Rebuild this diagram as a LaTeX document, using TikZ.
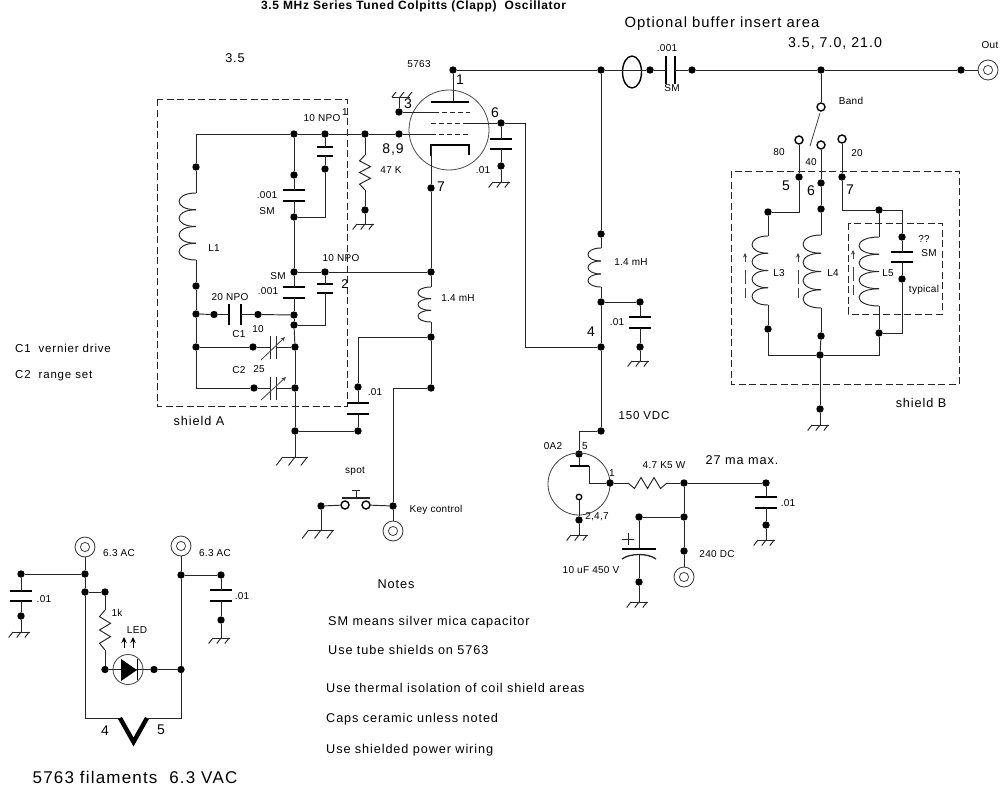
\documentclass[tikz,border=0pt]{standalone}
\usepackage{fontspec}
\setmainfont{Liberation Sans}
\newfontfamily\lsf[LetterSpace=7]{Liberation Sans}
\newfontfamily\ssf[LetterSpace=3]{Liberation Sans}
\newfontfamily\ttlf[LetterSpace=5.5]{Liberation Sans}
\usetikzlibrary{arrows.meta,shapes.geometric}
\newcounter{lab}
\tikzset{
  wire/.style={line width=0.95pt,draw=black!85,line join=miter},
  plate/.style={line width=1.7pt,draw=black},
  thinw/.style={line width=0.8pt,draw=black!75},
  dot/.style={circle,fill=black,inner sep=0pt,minimum size=7.4pt},
  opn/.style={circle,draw=black,fill=white,line width=1.4pt,inner sep=0pt,minimum size=8pt},
  jk/.style={circle,draw=black!80,line width=0.8pt,fill=white,inner sep=0pt,minimum size=20pt},
  shield/.style={line width=0.95pt,draw=black!85,dash pattern=on 7pt off 3.5pt},
  sm/.style={inner sep=0pt,font=\ssf\fontsize{10}{12}\selectfont},
  ms/.style={inner sep=0pt,font=\lsf\fontsize{11.5}{14}\selectfont},
  md/.style={inner sep=0pt,font=\lsf\fontsize{12.7}{15}\selectfont},
  mb/.style={inner sep=0pt,font=\lsf\fontsize{14.2}{16}\selectfont},
  mc/.style={inner sep=0pt,font=\lsf\fontsize{14.8}{17}\selectfont},
  bg/.style={inner sep=0pt,font=\lsf\fontsize{14}{16}\selectfont},
  lg/.style={inner sep=0pt,font=\lsf\fontsize{17}{19}\selectfont},
  ttl/.style={inner sep=0pt,font=\ttlf\bfseries\fontsize{12}{14}\selectfont},
}
\newcommand\J[3]{\node[dot] (#1) at (#2,#3) {};}
\newcommand\OC[3]{\node[opn] (#1) at (#2,#3) {};}
\newcommand\JK[3]{\node[jk] (#1) at (#2,#3) {}; \draw[thinw] (#2,#3) circle (4.6pt);}
\newcommand\PT[3]{\coordinate (#1) at (#2,#3);}
\newcommand\lb[4][sm]{\stepcounter{lab}\node[#1] (t\thelab) at (#2,#3) {#4};}
\newcommand\lbw[4][md]{\stepcounter{lab}\node[#1,anchor=west] (t\thelab) at (#2,#3) {#4};}
% vertical capacitor: name x y1 y2 halfwidth
\newcommand\capV[5]{\coordinate (#1t) at (#2,#3);\coordinate (#1b) at (#2,#4);
  \draw[plate] (#2-#5,#3)--(#2+#5,#3) (#2-#5,#4)--(#2+#5,#4);}
% horizontal capacitor: name y x1 x2 halfheight
\newcommand\capH[5]{\coordinate (#1l) at (#3,#2);\coordinate (#1r) at (#4,#2);
  \draw[plate] (#3,#2-#5)--(#3,#2+#5) (#4,#2-#5)--(#4,#2+#5);}
% variable capacitor plates
\newcommand\capHv[5]{\coordinate (#1l) at (#3,#2);\coordinate (#1r) at (#4,#2);
  \draw[wire] (#3,#2-#5)--(#3,#2+#5) (#4,#2-#5)--(#4,#2+#5);}
% vertical resistor: name x y1 y2
\newcommand\resV[4]{\coordinate (#1t) at (#2,#3);\coordinate (#1b) at (#2,#4);
  \pgfmathsetmacro\hh{(#4-#3)/6}
  \draw[wire] (#2,#3)--(#2-5.5,#3+\hh)--(#2+5.5,#3+2*\hh)--(#2-5.5,#3+3*\hh)--(#2+5.5,#3+4*\hh)--(#2-5.5,#3+5*\hh)--(#2,#4);}
% horizontal resistor: name y x1 x2
\newcommand\resH[4]{\coordinate (#1l) at (#3,#2);\coordinate (#1r) at (#4,#2);
  \pgfmathsetmacro\hh{(#4-#3)/6}
  \draw[wire] (#3,#2)--(#3+\hh,#2+5.5)--(#3+2*\hh,#2-5.5)--(#3+3*\hh,#2+5.5)--(#3+4*\hh,#2-5.5)--(#3+5*\hh,#2+5.5)--(#4,#2);}
% vertical coil: name x y1 y2 w lobes
\newcommand\coilV[6]{\coordinate (#1t) at (#2,#3);\coordinate (#1b) at (#2,#4);
  \pgfmathsetmacro\hh{(#4-#3)/#6}
  \foreach \i in {1,...,#6}{\pgfmathsetmacro\ya{#3+(\i-1)*\hh}\pgfmathsetmacro\yb{\ya+\hh}
    \draw[wire] (#2,\ya) .. controls (#2-#5*1.33,\ya) and (#2-#5*1.33,\yb) .. (#2,\yb);}}
% ground: name x y halfwidth
\newcommand\GN[4]{\coordinate (#1) at (#2,#3);
  \draw[wire] (#2-#4,#3)--(#2+#4,#3);
  \foreach \k in {-1,0,1}{\pgfmathsetmacro\xx{#2+\k*#4*0.95}\draw[wire] (\xx,#3)--(\xx-#4*0.5,#3+#4*0.65);}}
% tuning arrow beside coil: x ytop
\newcommand\TA[2]{\draw[thinw,-{Stealth[length=4.5pt,width=4pt]}] (#1,#2+9)--(#1,#2);
  \draw[thinw] (#1,#2+17)--(#1,#2+31);\draw[thinw] (#1,#2+35)--(#1,#2+45);}
\begin{document}
\begin{tikzpicture}[x=1pt,y=-1pt]
\useasboundingbox[fill=white] (0,0) rectangle (1000,789);
% ---- shields
\draw[shield] (157,99.5) rectangle (347,406);
\draw[shield] (731,171) rectangle (959,384);
\draw[shield] (848,223) rectangle (942,314);
% ---- tank
\J{a1}{196}{167}\J{a2}{294}{134}\J{a3}{325}{134}\J{a4}{365}{134}\J{g89}{399}{134}
\PT{tl}{196}{134}
\coilV{L1}{196}{193}{260}{17}{4}
\J{a5}{196}{286}\J{a6}{196}{314}\J{a7}{196}{347}\PT{a8}{196}{388}
\draw[wire] (a2)--(tl)--(a1); \draw[wire] (a2)--(a3)--(a4)--(g89);
\draw[wire] (a1)--(L1t);\draw[wire] (L1b)--(a5);\draw[wire] (a5)--(a6);\draw[wire] (a6)--(a7);\draw[wire] (a7)--(a8);
\J{b1}{294}{175}\capV{c1}{294}{190}{201}{11}\J{b2}{294}{217}
\draw[wire] (a2)--(b1);\draw[wire] (b1)--(c1t);\draw[wire] (c1b)--(b2);
\capV{c2}{325}{147}{156}{8}\J{b3}{325}{169}\PT{b4}{325}{217}
\draw[wire] (a3)--(c2t);\draw[wire] (c2b)--(b3);\draw[wire] (b3)--(b4)--(b2);
\J{d1}{294}{272}\J{d2}{325}{272}\J{d3}{431}{272}
\draw[wire] (b2)--(d1);\draw[wire] (d1)--(d2);\draw[wire] (d2)--(d3);
\capV{c3}{294}{287}{298}{11}\capV{c4}{325}{284}{293}{8}
\J{e1}{294}{315}\J{e2}{294}{325}\PT{e3}{325}{325}
\draw[wire] (d1)--(c3t);\draw[wire] (c3b)--(e1);\draw[wire] (e1)--(e2);
\draw[wire] (d2)--(c4t);\draw[wire] (c4b)--(e3)--(e2);
\J{f1}{214}{314.5}\capH{cf}{314.5}{229}{241}{10.5}\J{f2}{258}{314.5}
\draw[wire] (a6)--(f1);\draw[wire] (f1)--(cfl);\draw[wire] (cfr)--(f2);\draw[wire] (f2)--(e1);
% variable caps
\J{v1}{253}{347}\J{v2}{295}{347}\capHv{cv1}{347}{270}{276}{11.5}
\draw[wire] (a7)--(v1);\draw[wire] (v1)--(cv1l);\draw[wire] (cv1r)--(v2);
\draw[thinw,-{Stealth[length=4.5pt,width=4pt]}] (261,360)--(285,337);
\J{v3}{254}{388}\J{v4}{295}{388}\capHv{cv2}{388}{270}{276}{11.5}
\draw[wire] (a8)--(v3);\draw[wire] (v3)--(cv2l);\draw[wire] (cv2r)--(v4);
\draw[thinw,-{Stealth[length=4.5pt,width=4pt]}] (261,400)--(286,377);
\J{h1}{295}{431}
\draw[wire] (e2)--(v2);\draw[wire] (v2)--(v4);\draw[wire] (v4)--(h1);
\GN{hg}{295}{457}{13}\draw[wire] (h1)--(hg);
% .01 near shield A
\J{i1}{358}{387}\capV{c5}{358}{403}{414}{11}\J{i2}{358}{431}\PT{i3}{358}{337}
\draw[wire] (i1)--(c5t);\draw[wire] (c5b)--(i2);\draw[wire] (h1)--(i2);
\J{j1}{431}{337}\J{j2}{431}{388}
\draw[wire] (i1)--(i3)--(j1);\draw[wire] (j1)--(j2);
\coilV{L6}{431}{287}{322}{13}{3}
\draw[wire] (d3)--(L6t);\draw[wire] (L6b)--(j1);
% key
\PT{k0}{393}{388}\J{k1}{393}{506}\JK{kj}{393}{531}
\draw[wire] (j2)--(k0)--(k1);\draw[wire] (k1)--(kj);
\J{k2}{321}{506}\OC{s1}{345}{505}\OC{s2}{366}{505}
\draw[wire] (k2)--(s1);\draw[wire] (s2)--(k1);
\GN{kg}{321}{530}{13}\draw[wire] (k2)--(kg);
\PT{sb1}{342}{498}\PT{sb2}{370}{498}\PT{ss1}{356}{498}\PT{ss2}{356}{490}\PT{sc1}{352}{490}\PT{sc2}{360}{490}
\draw[wire,line width=1.3pt] (sb1)--(sb2);\draw[wire] (ss1)--(ss2);\draw[wire] (sc1)--(sc2);
% 47K
\resV{R1}{365}{155}{190}\J{r2}{365}{210}\GN{rg}{365}{224}{8.5}
\draw[wire] (a4)--(R1t);\draw[wire] (R1b)--(r2);\draw[wire] (r2)--(rg);
% ---- tube 5763
\node[circle,draw=black!70,line width=0.8pt,inner sep=0pt,minimum size=80pt] (tube) at (449,130) {};
\J{p1}{453}{70}\PT{p2}{453}{102}\PT{p3}{431}{102}\PT{p4}{469}{102}
\draw[wire] (p1)--(p2);\draw[line width=1.7pt] (p3)--(p4);
\J{g3}{399}{112}\PT{g3a}{434}{112}\PT{g3b}{470}{112}
\draw[wire] (g3)--(g3a);\draw[wire,dash pattern=on 5pt off 3pt] (g3a)--(g3b);
\PT{g3t}{399}{97}\draw[wire] (g3)--(g3t);\draw[wire] (392,97)--(410,97);
\foreach \x in {392,400,408}{\draw[wire] (\x,97)--(\x+4,92);}
\J{g6}{501}{123}\PT{g6a}{431}{123}\PT{g6b}{466}{123}\PT{g6c}{525}{123}
\draw[wire,dash pattern=on 5pt off 3pt] (g6a)--(g6b);\draw[wire] (g6b)--(g6);\draw[wire] (g6)--(g6c);
\PT{g8a}{431}{134}\PT{g8b}{470}{134}
\draw[wire] (g89)--(g8a);\draw[wire,dash pattern=on 5pt off 3pt] (g8a)--(g8b);
\capV{c6}{501}{139}{149}{11}\J{m1}{501}{166}\GN{mg}{501}{182}{8.5}
\draw[wire] (g6)--(c6t);\draw[wire] (c6b)--(m1);\draw[wire] (m1)--(mg);
% cathode
\PT{k3}{431}{145}\PT{k4}{469}{145}\PT{k5}{469}{155}\J{k7}{431}{188}
\draw[line width=1.7pt] (k5)--(k4)--(k3)--(431,156);
\draw[wire] (k3)--(k7);\draw[wire] (k7)--(d3);
% top wire and buffer
\J{n1}{601}{70}\node[draw=black,line width=1.4pt,ellipse,inner sep=0pt,minimum width=19pt,minimum height=32pt] (n2) at (632,72) {};
\J{n3}{650}{70}\capH{c7}{70}{666}{675}{14}\J{n4}{692}{70}\J{n5}{821}{70}\J{n6}{961}{70}\JK{oj}{988}{70}
\draw[wire] (p1)--(n1);\draw[wire] (n1)--(n3);\draw[wire] (n3)--(c7l);\draw[wire] (c7r)--(n4);\draw[wire] (n4)--(n5);\draw[wire] (n5)--(n6);\draw[wire] (n6)--(oj);
% screen / B+ line
\coilV{L7}{601}{248}{287}{13}{3}
\J{q0}{601}{234}\J{q1}{601}{302}\J{q2}{640}{302}\J{q3}{601}{347}\J{q4}{640}{347}\capV{c8}{640}{317}{328}{11}\GN{qg}{640}{361}{8.5}
\draw[wire] (n1)--(q0);\draw[wire] (q0)--(L7t);\draw[wire] (L7b)--(q1);\draw[wire] (q1)--(q2);\draw[wire] (q2)--(c8t);\draw[wire] (c8b)--(q4);\draw[wire] (q4)--(qg);
\draw[wire] (q1)--(q3);\draw[wire] (g6c)--(525,347)--(q3);
% OA2
\J{u1}{601}{431}\PT{u2}{579}{431}\J{u3}{579}{454}
\draw[wire] (q3)--(u1);\draw[wire] (u1)--(u2)--(u3);
\node[circle,draw=black!75,line width=0.8pt,inner sep=0pt,minimum size=62pt] (oa) at (579,484) {};
\J{u4}{610}{483}\PT{u5}{579}{466}\PT{u6}{570}{466}\PT{u7}{589}{466}\PT{u8}{589}{483}
\draw[wire] (u3)--(u5);\draw[line width=1.5pt] (u6)--(u7);\draw[wire] (u7)--(u8)--(u4);
\node[circle,draw=black,fill=white,line width=1.3pt,inner sep=0pt,minimum size=5.5pt] (u9) at (579,497) {};
\J{u10}{579}{520}\GN{ug}{579}{535}{8.5}\draw[wire] (u9)--(u10);\draw[wire] (u10)--(ug);
% 4.7K and supply
\resH{R2}{483}{628}{667}\J{w1}{684}{483}\J{w2}{766}{483}\capV{c9}{766}{497}{508}{11}\J{w3}{766}{525}\GN{wg}{766}{540}{8.5}
\draw[wire] (u4)--(R2l);\draw[wire] (R2r)--(w1);\draw[wire] (w1)--(w2);\draw[wire] (w2)--(c9t);\draw[wire] (c9b)--(w3);\draw[wire] (w3)--(wg);
\J{w4}{684}{517}\J{w5}{639}{517}\J{w6}{684}{551}\JK{dcj}{684}{577}
\draw[wire] (w1)--(w4);\draw[wire] (w4)--(w6);\draw[wire] (w6)--(dcj);\draw[wire] (w4)--(w5);
\PT{e10t}{639}{549}\PT{e10b}{639}{555}\J{w7}{639}{582}\GN{wg2}{639}{602}{8.5}
\draw[wire] (w5)--(e10t);\draw[wire] (e10b)--(w7);\draw[wire] (w7)--(wg2);
\draw[plate,line width=1.4pt] (622,549)--(656,549);
\draw[wire,line width=1.3pt] (622,559) .. controls (630,553) and (648,553) .. (656,559);
\draw[wire] (622,539)--(634,539) (628,533)--(628,545);
% band switch
\OC{y0}{821}{107}\OC{y1}{799}{140}\OC{y2}{821}{145}\OC{y3}{842}{139}
\PT{ya}{820}{113}\PT{yb}{810}{146}
\draw[wire] (n5)--(y0);\draw[thinw] (ya)--(yb);
\J{z1}{799}{177}\J{z2}{821}{183}\J{z3}{842}{177}\J{z4}{821}{209}\J{z5}{768}{212}\J{z6}{879}{210}
\PT{z7}{799}{212}\PT{z8}{842}{210}\PT{z9}{902}{210}
\draw[wire] (y1)--(z1);\draw[wire] (z1)--(z7)--(z5);
\draw[wire] (y2)--(z2);\draw[wire] (z2)--(z4);
\draw[wire] (y3)--(z3);\draw[wire] (z3)--(z8)--(z6);
% L3 L4 L5
\coilV{L3}{768}{236}{305}{16}{4}\J{z10}{768}{329}
\coilV{L4}{821}{235}{308}{18}{4}\J{z11}{821}{336}
\coilV{L5}{879}{237}{306}{20}{4}\J{z12}{879}{333}
\J{z13}{820}{355}\PT{z14}{768}{355}\PT{z15}{879}{355}
\draw[wire] (z5)--(L3t);\draw[wire] (L3b)--(z10);\draw[wire] (z10)--(z14)--(z13);
\draw[wire] (z4)--(L4t);\draw[wire] (L4b)--(z11);\draw[wire] (z11)--(z13);
\draw[wire] (z6)--(L5t);\draw[wire] (L5b)--(z12);\draw[wire] (z12)--(z15)--(z13);
\TA{745}{253}\TA{798}{253}\TA{853}{250}
\J{z16}{902}{237}\capV{c10}{902}{252}{262}{11}\J{z17}{902}{279}\PT{z18}{902}{333}
\draw[wire] (z6)--(z9)--(z16);\draw[wire] (z16)--(c10t);\draw[wire] (c10b)--(z17);\draw[wire] (z17)--(z18)--(z12);
\J{z19}{820}{409}\GN{zg}{820}{425}{8.5}\draw[wire] (z13)--(z19);\draw[wire] (z19)--(zg);
% ---- filaments
\JK{fa}{85}{547}\JK{fb}{181}{546}
\J{l1}{85}{574}\J{l2}{85}{592}\J{l3}{105}{592}\J{l4}{181}{575}\J{l5}{221}{575}\J{l6}{21}{574}
\PT{l7}{85}{718}\PT{l8}{120}{718}\PT{l9}{147}{718}\PT{l10}{181}{718}\PT{lv}{133.5}{742}
\draw[wire] (fa)--(l1);\draw[wire] (l1)--(l2);\draw[wire] (l2)--(l7)--(l8);
\draw[line width=4.4pt,line join=miter] (l8)--(lv)--(l9);
\draw[wire] (l9)--(l10)--(l4);\draw[wire] (l4)--(fb);\draw[wire] (l2)--(l3);\draw[wire] (l1)--(l6);\draw[wire] (l4)--(l5);
\capV{c11}{21}{591}{601}{11}\J{l11}{21}{616}\GN{lg1}{21}{632}{8.5}
\draw[wire] (l6)--(c11t);\draw[wire] (c11b)--(l11);\draw[wire] (l11)--(lg1);
\capV{c12}{221}{590}{601}{11}\J{l12}{221}{620}\GN{lg2}{221}{638}{8.5}
\draw[wire] (l5)--(c12t);\draw[wire] (c12b)--(l12);\draw[wire] (l12)--(lg2);
\resV{R3}{105}{610}{650}\J{l13}{105}{669.5}\J{l14}{154}{669.5}\J{l15}{181}{669.5}
\draw[wire] (l3)--(R3t);\draw[wire] (R3b)--(l13);\draw[wire] (l13)--(l14);\draw[wire] (l14)--(l15);
\node[circle,draw=black!75,line width=0.8pt,inner sep=0pt,minimum size=30pt] (led) at (128,669.5) {};
\fill (121,659)--(121,681)--(137,670)--cycle;\draw[line width=1pt] (137,659)--(137,680);
\draw[line width=1pt,-{Stealth[length=6pt,width=5.5pt]}] (124,648)--(124,637);
\draw[line width=1pt,-{Stealth[length=6pt,width=5.5pt]}] (133,648)--(133,637);
% ---- labels
\lb[ttl]{413.5}{6}{3.5 MHz Series Tuned Colpitts (Clapp)\ \ Oscillator}
\lb[mc]{722}{24}{Optional buffer insert area}
\lb[mb]{835}{43}{3.5, 7.0, 21.0}
\lb[md]{235}{58}{3.5}
\lb{990}{45}{Out}
\lb{419}{64}{5763}
\lb[bg]{460}{80}{1}
\lb{667}{48}{.001}
\lb{672}{88}{SM}
\lb{851}{101}{Band}
\lb[bg]{408}{104}{3}
\lb[bg]{495}{113}{6}
\lb{322}{118}{10 NPO}
\lb{345}{112}{1}
\lb{779}{152}{80}
\lb{811}{162}{40}
\lb{857}{153}{20}
\lb[bg]{393}{150}{8,9}
\lb{391}{170}{47 K}
\lb{483}{170}{.01}
\lb[bg]{786}{186}{5}
\lb[bg]{811}{191}{6}
\lb[bg]{850}{190}{7}
\lb[bg]{441}{187}{7}
\lb{267}{195}{.001}
\lb{267}{211}{SM}
\lb{214}{248}{L1}
\lb{341}{258}{10 NPO}
\lb{278}{276}{SM}
\lb{268}{291}{.001}
\lb[md]{345}{284}{2}
\lb{230}{297}{20 NPO}
\lb{458}{298}{1.4 mH}
\lb{258}{329}{10}
\lb{239}{334}{C1}
\lb{259}{369}{25}
\lb{239}{370}{C2}
\lb{375}{392}{.01}
\lb[md]{199}{421}{shield A}
\lb{631}{262}{1.4 mH}
\lb{617}{322}{.01}
\lb[bg]{591}{332}{4}
\lb{779}{273}{L3}
\lb{833}{273}{L4}
\lb{888}{273}{L5}
\lb{924}{239}{??}
\lb{929}{253}{SM}
\lb{924}{290}{typical}
\lb[md]{921}{403}{shield B}
\lbw[ms]{15}{348}{C1\ \ vernier drive}
\lbw[ms]{15}{376}{C2\ \ range set}
\lb[ms]{644}{416}{150 VDC}
\lb{553}{446}{0A2}
\lb{585}{446}{5}
\lb[md]{742}{460}{27 ma max.}
\lb{664}{465}{4.7 K5 W}
\lb{612}{473}{1}
\lb{788}{503}{.01}
\lb{597}{517}{2,4,7}
\lb{717}{554}{240 DC}
\lb{591}{570}{10 uF 450 V}
\lb{355}{471}{spot}
\lb{436}{510}{Key control}
\lb{119}{553}{6.3 AC}
\lb{215}{553}{6.3 AC}
\lb{44}{599}{.01}
\lb{242}{596}{.01}
\lb{117}{613}{1k}
\lb{137}{630}{LED}
\lb[bg]{105}{731}{4}
\lb[bg]{161}{730}{5}
\lb[lg]{135}{777}{5763 filaments\ \ 6.3 VAC}
\lb[md]{396}{584}{Notes}
\lbw[md]{328}{622}{SM means silver mica capacitor}
\lbw[md]{328}{650}{Use tube shields on 5763}
\lbw[md]{326}{688}{Use thermal isolation of coil shield areas}
\lbw[md]{326}{719}{Caps ceramic unless noted}
\lbw[md]{326}{750}{Use shielded power wiring}
\end{tikzpicture}
\end{document}
